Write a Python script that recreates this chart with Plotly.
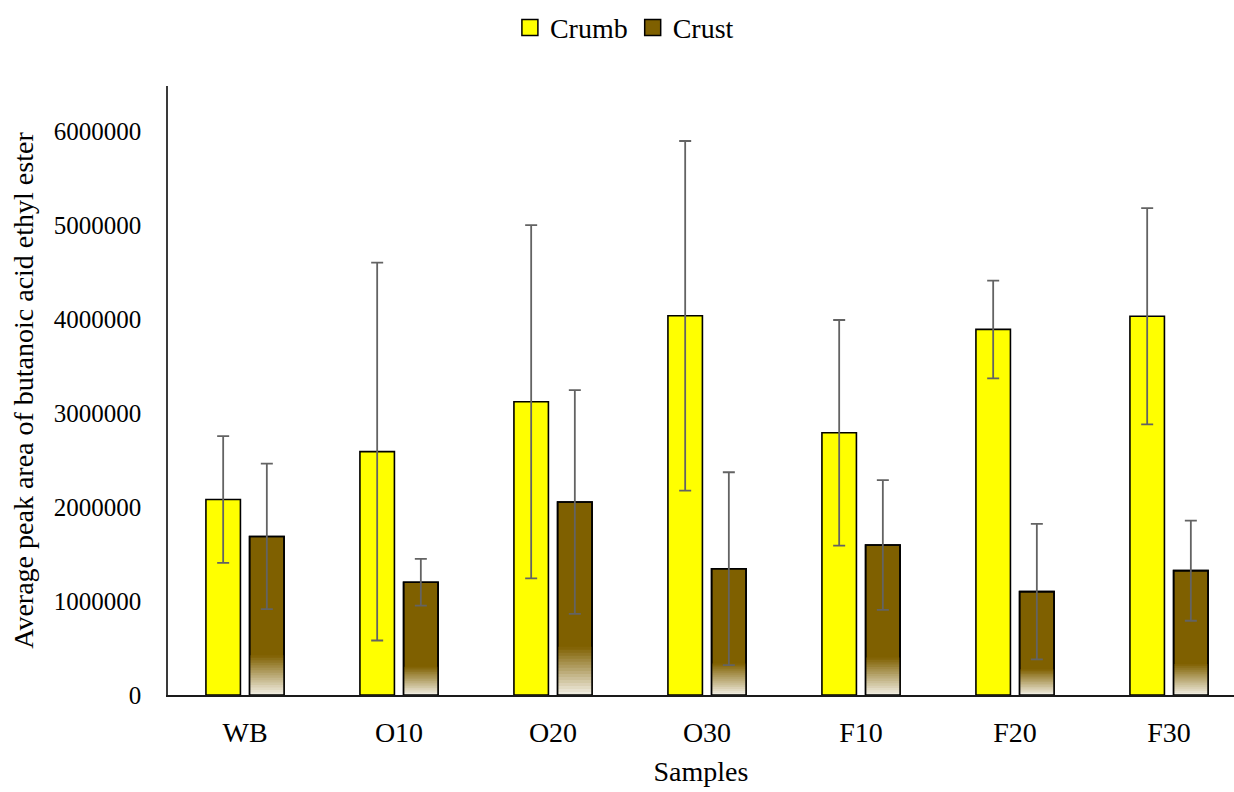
import plotly.graph_objects as go

# Sample groups and measured peak areas (mean and standard deviation)
samples = ["WB", "O10", "O20", "O30", "F10", "F20", "F30"]
crumb_mean = [2080000, 2590000, 3120000, 4035000, 2790000, 3890000, 4030000]
crumb_sd = [675000, 2010000, 1880000, 1860000, 1200000, 520000, 1150000]
crust_mean = [1687000, 1200000, 2053000, 1344000, 1596000, 1100000, 1323000]
crust_sd = [774000, 248000, 1190000, 1026000, 690000, 720000, 533000]
y_ticks = [0, 1000000, 2000000, 3000000, 4000000, 5000000, 6000000]

FONT = "Liberation Serif, Palatino Linotype, serif"
TEXT_SIZE = 28
YELLOW = "#FFFF00"
BROWN = (127, 96, 0)
CREAM = (243, 240, 230)
OUTLINE = dict(color="#000000", width=1.6)
ERR_STYLE = dict(color="#636363", thickness=1.8, width=6)


def rgb(c):
    return "rgb({},{},{})".format(*c)


def mix(c1, c2, t):
    return rgb([round(a + (b - a) * t) for a, b in zip(c1, c2)])


fig = go.Figure()

fig.add_trace(go.Bar(
    x=samples, y=crumb_mean, offsetgroup="crumb", showlegend=False,
    marker=dict(color=YELLOW, line=OUTLINE),
    error_y=dict(type="data", array=crumb_sd, visible=True, **ERR_STYLE),
))

# Crust bars: solid brown body with a light fade toward the base
fig.add_trace(go.Bar(
    x=samples, y=crust_mean, offsetgroup="crust", showlegend=False,
    marker=dict(color=rgb(BROWN), line=OUTLINE),
))
fade_share = 0.25
steps = 16
for k in range(steps):
    frac = fade_share * (steps - k) / steps
    fig.add_trace(go.Bar(
        x=samples, y=[v * frac for v in crust_mean], offsetgroup="crust",
        marker=dict(color=mix(BROWN, CREAM, (k + 0.5) / steps), line=dict(width=0)),
        showlegend=False, hoverinfo="skip",
    ))
fig.add_trace(go.Bar(
    x=samples, y=crust_mean, offsetgroup="crust",
    marker=dict(color="rgba(0,0,0,0)", line=OUTLINE),
    error_y=dict(type="data", array=crust_sd, visible=True, **ERR_STYLE),
    showlegend=False, hoverinfo="skip",
))

# Legend swatches
for name, color in [("Crumb", YELLOW), ("Crust", rgb(BROWN))]:
    fig.add_trace(go.Scatter(
        x=[None], y=[None], mode="markers", name=name,
        marker=dict(symbol="square", size=17, color=color,
                    line=dict(color="#000000", width=1.5)),
    ))

fig.update_layout(
    width=1234, height=792,
    margin=dict(l=168, r=0, t=86, b=97),
    paper_bgcolor="white", plot_bgcolor="white",
    barmode="group", bargap=0.433, bargroupgap=0.21,
    font=dict(family=FONT, size=26, color="#000000"),
    legend=dict(
        orientation="h", xref="container", yref="container",
        x=0.506, xanchor="center", y=0.965, yanchor="middle",
        font=dict(family=FONT, size=TEXT_SIZE), itemwidth=30,
        tracegroupgap=0,
    ),
    xaxis=dict(
        range=[-0.5, 6.422], showgrid=False, showline=True,
        linecolor="#1a1a1a", linewidth=1.5, ticks="",
        ticklabelstandoff=12, tickfont=dict(family=FONT, size=TEXT_SIZE),
        title=dict(text="Samples", standoff=14, font=dict(family=FONT, size=TEXT_SIZE)),
    ),
    yaxis=dict(
        range=[0, 6480000], showgrid=False, showline=True, zeroline=False,
        linecolor="#3a3a3a", linewidth=1.6, ticks="",
        tickvals=y_ticks, ticktext=[str(v) for v in y_ticks],
        ticklabelstandoff=20, tickfont=dict(family=FONT, size=25),
        title=dict(text="Average peak area of butanoic acid ethyl ester",
                   standoff=12, font=dict(family=FONT, size=TEXT_SIZE)),
    ),
)

fig.write_html("out.html")
